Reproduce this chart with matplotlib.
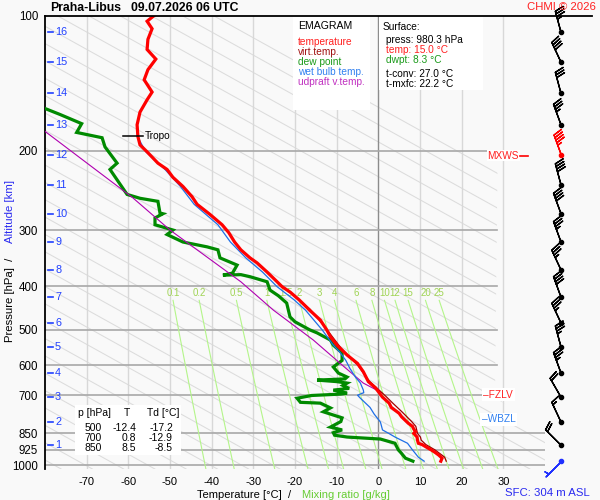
import numpy as np
import matplotlib
matplotlib.use('Agg')
import matplotlib.pyplot as plt
from matplotlib.patches import Rectangle, Polygon
from matplotlib.lines import Line2D
from matplotlib.ticker import NullLocator

plt.rcParams['font.family'] = ['Liberation Sans', 'DejaVu Sans']

# ---------------- data ----------------
temp_p = [980, 965, 950, 938, 925, 915, 900, 894, 880, 866, 850, 843, 828, 820, 807,
          781, 767, 744, 728, 706, 692, 673, 652, 620, 594, 569, 541, 518, 500, 476,
          452, 429, 412, 401, 391, 372, 355, 346, 332, 319, 304, 292, 277, 263, 253,
          240, 229, 220, 213, 201, 194, 186, 175, 164, 154, 148, 139, 132, 125, 119,
          113, 107, 103, 100]
temp_t = [15.0, 15.3, 14.5, 13.7, 12.7, 11.8, 10.5, 9.6, 9.4, 9.3, 8.5, 8.9, 8.4, 8.2, 7.2,
          5.6, 5.0, 3.1, 2.6, 1.0, 0.3, -0.7, -2.4, -3.6, -5.0, -7.5, -9.9, -11.5, -12.4, -13.9,
          -16.5, -19.0, -21.2, -23.1, -24.3, -26.7, -29.1, -30.8, -33.0, -34.5, -35.9, -37.5, -40.4, -43.5, -44.7,
          -46.9, -49.3, -50.7, -52.9, -55.5, -57.2, -57.7, -57.9, -57.2, -55.5, -54.3, -56.2, -55.3, -53.4, -55.5,
          -55.3, -54.3, -55.5, -53.8]

virt_p = [980, 960, 940, 925, 900, 880, 866, 850, 820, 800, 760, 730, 700, 650, 600, 550, 500, 450, 400]
virt_t = [16.3, 15.9, 14.6, 13.6, 11.4, 10.3, 10.1, 9.4, 9.0, 8.0, 5.6, 3.6, 1.6, -2.2, -4.9, -8.9, -12.3, -16.4, -23.0]

dwpt_p = [980, 965, 940, 925, 894, 875, 866, 858, 847, 835, 823, 800, 785, 761, 746,
          728, 725, 710, 700, 695, 692, 681, 675, 665, 657, 652, 647, 643, 637, 624,
          605, 585, 563, 541, 527, 508, 500, 480, 468, 436, 420, 408, 391, 381, 377,
          378, 374, 359, 346, 332, 327, 319, 307, 300, 292, 282, 276, 275, 259, 255,
          250, 232, 220, 213, 196, 187, 182, 174, 166, 161, 158]
dwpt_t = [8.3, 6.5, 5.5, 4.8, 4.0, 0.5, -7.5, -10.5, -10.8, -8.7, -11.5, -9.0, -8.7, -13.2, -11.5,
          -13.9, -18.7, -19.5, -16.0, -9.0, -7.5, -10.8, -7.0, -8.5, -7.5, -10.0, -14.7, -8.0, -7.5, -9.6,
          -10.8, -8.7, -8.7, -10.8, -11.5, -14.7, -16.5, -20.0, -21.2, -22.0, -24.0, -26.0, -26.7, -30.8, -33.0,
          -37.3, -35.0, -33.9, -38.0, -38.5, -41.1, -46.9, -50.7, -49.3, -53.6, -53.6, -51.7, -52.4, -52.9, -57.2,
          -60.3, -62.7, -64.4, -62.7, -65.6, -66.3, -72.4, -71.2, -76.4, -80.0, -82.0]

wetb_p = [980, 960, 925, 894, 866, 850, 835, 802, 770, 744, 710, 699, 690, 681, 657,
          637, 610, 585, 560, 541, 500, 452, 429, 401, 372, 346, 319, 292, 263, 240,
          220, 201, 186, 175, 164, 154, 148, 139, 132, 125, 119, 113, 107, 103, 100]
wetb_t = [11.0, 9.6, 8.2, 7.0, 4.0, 2.5, 1.0, 0.5, -1.0, -2.0, -4.3, -5.0, -3.5, -3.6, -4.3,
          -5.5, -6.8, -7.8, -9.3, -10.8, -13.5, -17.5, -20.2, -24.3, -27.8, -31.8, -35.5, -38.5, -44.2, -47.5,
          -51.2, -55.8, -57.8, -57.9, -57.2, -55.5, -54.3, -56.2, -55.3, -53.4, -55.5, -55.3, -54.3, -55.5, -53.8]

updr_p = [690, 657, 600, 527, 452, 391, 300, 254, 181, 170]
updr_t = [0.8, -3.6, -8.6, -15.6, -25.2, -33.0, -50.0, -59.0, -80.0, -82.5]

p_ticks = [100, 200, 300, 400, 500, 600, 700, 850, 925, 1000]
t_ticks = [-70, -60, -50, -40, -30, -20, -10, 0, 10, 20, 30]
mix_ratios = [0.1, 0.2, 0.5, 1, 1.5, 2, 3, 4, 6, 8, 10, 12, 15, 20, 25]
mix_labels = ['0.1', '0.2', '0.5', '1', '1.5', '2', '3', '4', '6', '8', '10', '12', '15', '20', '25']

alt_km = list(range(1, 17))
alt_p = [903, 802, 706, 624, 546, 483, 423, 368, 319, 276, 238, 204, 175, 149, 127, 109]

wind_p = [980, 903, 802, 706, 624, 546, 483, 423, 368, 319, 276, 238, 204, 175, 149, 127, 109]
wind_dir = [225, 315, 335, 330, 340, 345, 335, 340, 335, 340, 340, 345, 340, 340, 345, 335, 345]
wind_spd = [5, 20, 15, 20, 35, 35, 35, 40, 35, 35, 40, 40, 45, 35, 30, 40, 35]

sfc_press, sfc_temp, sfc_dwpt, t_conv, t_mxfc = 980.3, 15.0, 8.3, 27.0, 22.2
tab_p = [500, 700, 850]
tab_t = [-12.4, 0.8, 8.5]
tab_td = [-17.2, -12.9, -8.5]

tropo_p, tropo_t = 185, -57.7
mxws_p, fzlv_p, wbzl_p = 205, 697, 790

# ---------------- figure ----------------
W, H = 600, 500
BG = '#f9f9f9'
fig = plt.figure(figsize=(6, 5), dpi=100, facecolor=BG)


def fx(px):
    return px / W


def fy(py):
    return 1 - py / H


L, R, T, B = 45, 545, 15.5, 469
ax = fig.add_axes([fx(L), fy(B), (R - L) / W, (B - T) / H])
ax.set_facecolor(BG)
ax.set_yscale('log')
ax.set_xlim(-80, 40)
ax.set_ylim(1020, 100)
ax.yaxis.set_minor_locator(NullLocator())
ax.set_yticks(p_ticks)
ax.set_yticklabels([str(p) for p in p_ticks])
ax.set_xticks(t_ticks)
ax.set_xticklabels([str(t) for t in t_ticks])
ax.tick_params(axis='y', length=0, labelsize=8.3, pad=5)
ax.tick_params(axis='x', length=0, labelsize=8.0, pad=5.5)
for s in ['top', 'right', 'bottom']:
    ax.spines[s].set_visible(False)
ax.spines['left'].set_linewidth(1.3)

# clip region for diagonal background lines
clip = Polygon([(-80, 1020), (-80, 100), (29, 100), (28, 700), (40, 880), (40, 1020)],
               closed=True, transform=ax.transData, facecolor='none', edgecolor='none')
ax.add_patch(clip)

pp = np.geomspace(100, 1020, 60)
for c in np.arange(4.7 - 7.5 * 40, 160, 7.5):
    ln, = ax.plot(c + 84.4 * np.log(pp / 1000.0), pp, color='#dcdcdc', lw=0.75, zorder=1)
    ln.set_clip_path(clip)

# isotherms
for t in t_ticks:
    ax.axvline(t, color='#8c8c8c' if t == 0 else '#d8d8d8', lw=1.0, zorder=1.2)

# isobars
for p in p_ticks[1:]:
    xe = 40 if p >= 850 else 28.5
    ax.plot([-80, xe], [p, p], color='#a8a8a8', lw=1.2, zorder=1.3)

# mixing ratio lines
pm = np.geomspace(430, 1020, 30)
for w, lab in zip(mix_ratios, mix_labels):
    e = w * pm / (622.0 + w)
    lg = np.log(e / 6.112)
    td = 243.5 * lg / (17.67 - lg)
    ax.plot(td, pm, color='#b4f58a', lw=0.8, zorder=1.4)
    ax.text(td[0], 414, lab, color='#a0d455', fontsize=7, ha='center', va='center', zorder=1.5)

# profiles
ax.plot(dwpt_t, dwpt_p, color='#008a00', lw=2.3, zorder=3, solid_joinstyle='miter')
ax.plot(updr_t, updr_p, color='#b000b0', lw=0.8, zorder=3.5)
ax.plot(wetb_t, wetb_p, color='#1f6fe6', lw=0.9, zorder=3.6)
ax.plot(virt_t, virt_p, color='#a00000', lw=0.9, zorder=3.7)
ax.plot(temp_t, temp_p, color='#ff0000', lw=2.3, zorder=4, solid_joinstyle='miter')

# tropopause marker
ax.plot([tropo_t - 3.6, tropo_t + 1.2], [tropo_p, tropo_p], color='black', lw=1.1, zorder=5)
ax.text(tropo_t + 1.7, tropo_p, 'Tropo', fontsize=7.3, va='center', ha='left', zorder=5)

# altitude labels
for k, p in zip(alt_km, alt_p):
    ax.plot([-79.3, -78.0], [p, p], color='#2040ff', lw=1.2, zorder=5)
    ax.text(-77.6, p, str(k), color='#2040ff', fontsize=7.8, va='center', ha='left', zorder=5)


def box(x0, y0, x1, y1):
    fig.add_artist(Rectangle((fx(x0), fy(y1)), (x1 - x0) / W, (y1 - y0) / H,
                             transform=fig.transFigure, facecolor='white', edgecolor='none',
                             zorder=5))


def ftext(x, y, s, **kw):
    kw.setdefault('fontsize', 7.3)
    kw.setdefault('va', 'center')
    kw.setdefault('ha', 'left')
    fig.text(fx(x), fy(y), s, zorder=6, **kw)


# legend box
box(293, 16.5, 370, 110)
ftext(298, 26, 'EMAGRAM', fontsize=7.6)
for i, (s, c) in enumerate([('temperature', '#ff2020'), ('virt.temp.', '#a01010'),
                            ('dew point', '#1a9a1a'), ('wet bulb temp.', '#3080f0'),
                            ('udpraft v.temp.', '#c030c0')]):
    ftext(298, 42.3 + 10 * i, s, color=c)

# surface box
box(379, 16.5, 483, 90)
ftext(382.5, 27, 'Surface:')
ftext(386, 40, 'press: %.1f hPa' % sfc_press)
ftext(386, 50, 'temp: %.1f \u00b0C' % sfc_temp, color='#ff2020')
ftext(386, 60, 'dwpt: %.1f \u00b0C' % sfc_dwpt, color='#1a9a1a')
ftext(386, 74, 't-conv: %.1f \u00b0C' % t_conv)
ftext(386, 84, 't-mxfc: %.1f \u00b0C' % t_mxfc)

# table box
box(75, 405, 181, 455)
ftext(78, 413, 'p [hPa]', fontsize=7.5)
ftext(127, 413, 'T', fontsize=7.5, ha='center')
ftext(147, 413, 'Td [\u00b0C]', fontsize=7.5)
for i, (p, t, td) in enumerate(zip(tab_p, tab_t, tab_td)):
    y = 428 + 10 * i
    ftext(102, y, str(p), ha='right', fontsize=7.5)
    ftext(136, y, '%.1f' % t, ha='right', fontsize=7.5)
    ftext(173, y, '%.1f' % td, ha='right', fontsize=7.5)

# level labels
ax.text(26.2, mxws_p, 'MXWS', color='#ff2020', fontsize=7.3, va='center', ha='left', zorder=6,
        bbox=dict(facecolor='white', edgecolor='none', pad=0.6))
ax.plot([34.0, 36.0], [mxws_p, mxws_p], color='#ff0000', lw=1.2, zorder=6, clip_on=False)
ax.text(25.2, fzlv_p, '\u2013FZLV', color='#ff2020', fontsize=7.3, va='center', ha='left', zorder=6,
        bbox=dict(facecolor='white', edgecolor='none', pad=1.0))
ax.text(24.8, wbzl_p, '\u2013WBZL', color='#3080f0', fontsize=7.3, va='center', ha='left', zorder=6,
        bbox=dict(facecolor='white', edgecolor='none', pad=1.0))

# top frame line
fig.add_artist(Line2D([fx(45), fx(592)], [fy(15.5), fy(15.5)], transform=fig.transFigure,
                      color='black', lw=1.3, zorder=7))

# titles and labels
ftext(50, 8, 'Praha-Libus', fontsize=8.8, fontweight='bold')
ftext(131, 8, '09.07.2026 06 UTC', fontsize=8.8, fontweight='bold')
ftext(596, 7, 'CHMI \u00a9 2026', color='#ff2020', fontsize=8.2, ha='right')
ftext(197, 494.5, 'Temperature [\u00b0C]  /', fontsize=8.0)
ftext(302, 494.5, 'Mixing ratio [g/kg]', color='#66cc33', fontsize=8.0)
ftext(590, 493, 'SFC: 304 m ASL', color='#2a2af0', fontsize=8.2, ha='right')
fig.text(fx(10), fy(300), 'Pressure [hPa]  /', rotation=90, fontsize=8.2, ha='center', va='center')
fig.text(fx(10), fy(212), 'Altitude [km]', rotation=90, fontsize=8.2, ha='center', va='center',
         color='#2a2af0')

# wind barbs
axw = fig.add_axes([fx(R), fy(B), (W - R) / W, (B - T) / H])
axw.set_yscale('log')
axw.set_ylim(1020, 100)
axw.set_xlim(0, W - R)
axw.axis('off')
axw.patch.set_alpha(0)
wd = np.radians(wind_dir)
ws = np.array(wind_spd, dtype=float)
u = -ws * np.sin(wd)
v = -ws * np.cos(wd)
cols = ['black'] * len(wind_p)
cols[0] = '#2030ff'
cols[wind_p.index(mxws_p - 1)] = '#ff0000'
xb = np.full(len(wind_p), 16.0)
for c in set(cols):
    idx = [i for i, cc in enumerate(cols) if cc == c]
    axw.barbs(xb[idx], np.array(wind_p)[idx], u[idx], v[idx], length=5.6, color=c,
              linewidth=1.0, clip_on=False, zorder=5)
    axw.scatter(xb[idx], np.array(wind_p)[idx], s=9, color=c, zorder=6, clip_on=False)

fig.savefig('out.png', dpi=100, facecolor=BG)
